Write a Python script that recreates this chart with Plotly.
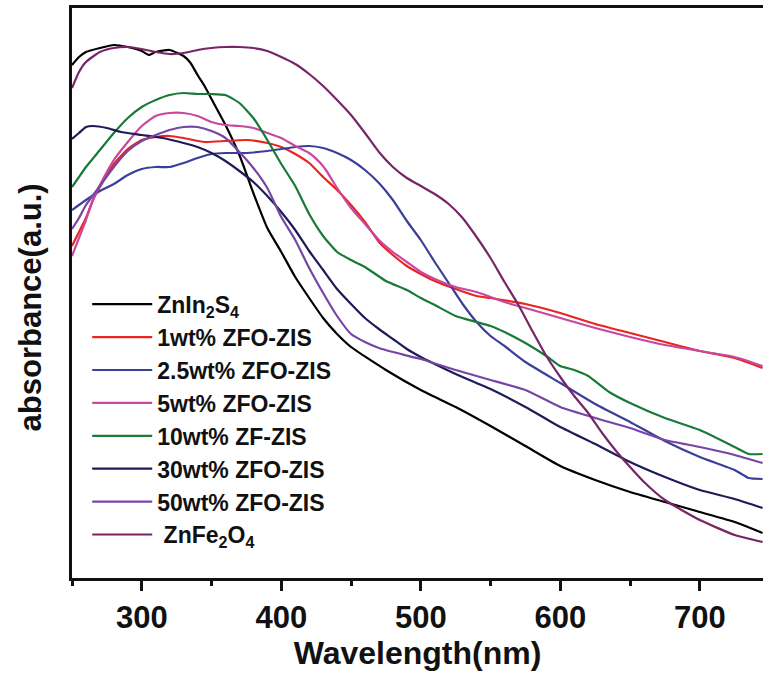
import plotly.graph_objects as go

# ---- data (wavelength in nm, absorbance in a.u.) ----
w_zis = [250,255,260,270,280,290,300,305,310,320,330,335,340,345,350,360,370,380,390,400,410,420,430,440,450,475,500,525,550,575,600,625,650,675,700,725,745]
a_zis = [5.13,5.21,5.26,5.30,5.33,5.31,5.27,5.23,5.26,5.28,5.22,5.15,5.03,4.92,4.79,4.53,4.23,3.85,3.50,3.26,3.01,2.80,2.60,2.44,2.31,2.08,1.88,1.71,1.52,1.32,1.12,0.98,0.86,0.76,0.66,0.56,0.45]

w_1 = [250,255,260,265,270,280,290,300,310,320,330,345,360,375,390,400,410,420,430,440,450,460,470,480,490,500,510,525,540,550,575,600,625,650,675,700,725,745]
a_1 = [3.32,3.46,3.60,3.78,3.91,4.14,4.29,4.38,4.41,4.42,4.40,4.36,4.37,4.38,4.35,4.31,4.24,4.15,4.01,3.88,3.73,3.56,3.36,3.23,3.12,3.04,2.97,2.89,2.82,2.80,2.74,2.65,2.54,2.45,2.36,2.27,2.20,2.10]

w_25 = [250,260,270,280,290,300,310,320,330,340,350,360,375,390,400,410,420,430,440,450,460,470,480,490,500,510,520,530,540,550,560,575,600,625,650,675,700,725,735,745]
a_25 = [3.68,3.78,3.87,3.94,4.03,4.09,4.11,4.11,4.15,4.20,4.24,4.25,4.25,4.27,4.29,4.31,4.32,4.30,4.25,4.18,4.08,3.95,3.78,3.57,3.38,3.16,2.95,2.74,2.56,2.42,2.32,2.16,1.95,1.74,1.56,1.37,1.21,1.08,1.00,0.99]

w_5 = [250,255,260,265,270,280,290,300,310,320,330,340,350,360,370,380,390,400,410,420,428,432,440,450,460,470,480,490,500,510,525,540,550,560,575,600,625,650,675,700,725,745]
a_5 = [3.22,3.40,3.58,3.78,3.93,4.18,4.36,4.52,4.62,4.65,4.65,4.62,4.56,4.53,4.52,4.50,4.45,4.40,4.32,4.25,4.15,4.08,3.90,3.70,3.54,3.38,3.26,3.16,3.06,2.99,2.91,2.86,2.81,2.76,2.70,2.60,2.50,2.41,2.33,2.27,2.21,2.12]

w_10 = [250,255,260,270,280,290,300,310,320,330,340,350,360,370,380,390,400,410,420,430,440,450,460,475,490,500,510,525,540,550,560,575,590,600,610,620,635,650,675,700,725,735,745]
a_10 = [3.91,4.01,4.11,4.28,4.45,4.60,4.71,4.78,4.83,4.85,4.84,4.84,4.83,4.75,4.60,4.38,4.14,3.92,3.64,3.42,3.26,3.18,3.11,2.97,2.88,2.80,2.73,2.62,2.56,2.52,2.46,2.35,2.22,2.12,2.08,2.02,1.86,1.75,1.60,1.48,1.31,1.24,1.24]

w_30 = [250,255,260,265,275,285,300,315,330,340,350,360,370,380,390,400,410,420,430,440,450,460,470,480,490,500,510,525,550,575,600,625,650,675,700,725,745]
a_30 = [4.39,4.45,4.51,4.52,4.50,4.46,4.43,4.40,4.35,4.31,4.25,4.17,4.07,3.96,3.82,3.66,3.48,3.27,3.08,2.89,2.74,2.60,2.49,2.39,2.29,2.21,2.14,2.04,1.89,1.71,1.51,1.34,1.16,1.01,0.88,0.79,0.70]

w_50 = [250,255,260,270,280,290,300,310,320,330,340,350,360,370,380,390,400,410,420,430,440,450,460,470,480,500,525,550,575,600,625,650,675,700,725,745]
a_50 = [3.49,3.60,3.73,3.92,4.11,4.27,4.37,4.43,4.48,4.51,4.51,4.47,4.40,4.26,4.10,3.90,3.61,3.38,3.10,2.85,2.62,2.44,2.36,2.30,2.26,2.19,2.08,1.98,1.88,1.71,1.60,1.50,1.38,1.31,1.23,1.15]

w_zfo = [250,255,260,270,280,290,300,310,320,330,340,350,360,370,380,390,400,410,420,430,440,450,460,470,480,490,500,510,520,530,540,550,560,570,580,590,600,610,620,630,640,650,660,675,700,725,745]
a_zfo = [4.90,5.06,5.16,5.26,5.30,5.31,5.29,5.26,5.24,5.25,5.28,5.30,5.31,5.31,5.30,5.27,5.21,5.14,5.04,4.92,4.78,4.63,4.45,4.26,4.11,4.00,3.92,3.84,3.74,3.60,3.41,3.20,2.96,2.73,2.47,2.22,2.01,1.82,1.65,1.45,1.27,1.11,0.96,0.78,0.58,0.43,0.36]

names = ["ZnIn<sub>2</sub>S<sub>4</sub>", "1wt% ZFO-ZIS", "2.5wt% ZFO-ZIS", "5wt% ZFO-ZIS",
         "10wt% ZF-ZIS", "30wt% ZFO-ZIS", "50wt% ZFO-ZIS", " ZnFe<sub>2</sub>O<sub>4</sub>"]
colors = ["#000000", "#E8251F", "#3B3F99", "#C9479E", "#187A38", "#1E1B57", "#7646A4", "#762565"]
series = [(w_zis, a_zis), (w_1, a_1), (w_25, a_25), (w_5, a_5),
          (w_10, a_10), (w_30, a_30), (w_50, a_50), (w_zfo, a_zfo)]

x_major = [300, 400, 500, 600, 700]
x_minor = [250, 350, 450, 550, 650]

FONT = "Liberation Sans, Arial, sans-serif"
INK = "#111111"

fig = go.Figure()
for (wx, ay), nm, c in zip(series, names, colors):
    fig.add_trace(go.Scatter(x=wx, y=ay, mode="lines", name=nm,
                             line=dict(color=c, width=2.2, shape="spline", smoothing=0.5)))

fig.update_layout(
    width=763, height=673,
    margin=dict(l=72, r=0, t=8, b=95, autoexpand=False),
    paper_bgcolor="white", plot_bgcolor="white",
    font=dict(family=FONT, color=INK),
    showlegend=True,
    legend=dict(x=0.022, y=0.518, xanchor="left", yanchor="top",
                bgcolor="rgba(0,0,0,0)", borderwidth=0,
                font=dict(family=FONT, size=23, color=INK, weight="bold"),
                itemwidth=60, tracegroupgap=0),
    xaxis=dict(range=[250, 745.3], showgrid=False, zeroline=False, automargin=False,
               showline=True, linecolor=INK, linewidth=3, mirror=True,
               tickvals=x_major, ticktext=[str(v) for v in x_major],
               ticks="outside", ticklen=10, tickwidth=3, tickcolor=INK,
               minor=dict(tickvals=x_minor, ticks="outside", ticklen=5, tickwidth=3, tickcolor=INK),
               tickfont=dict(family=FONT, size=31, color=INK, weight="bold"),
               title=dict(text="Wavelength(nm)", font=dict(family=FONT, size=32, color=INK, weight="bold"), standoff=8)),
    yaxis=dict(range=[0, 5.70], showgrid=False, zeroline=False, automargin=False,
               showline=True, linecolor=INK, linewidth=3, mirror=False,
               showticklabels=False, ticks=""),
    annotations=[dict(text="absorbance(a.u.)", xref="paper", yref="paper",
                      x=-0.0605, y=0.475, xanchor="center", yanchor="middle",
                      textangle=-90, showarrow=False,
                      font=dict(family=FONT, size=31, color=INK, weight="bold"))],
)

fig.write_html("out.html",
               config={"displayModeBar": False},
               post_script="document.documentElement.style.overflow='hidden';"
                           "document.body.style.margin='0';document.body.style.overflow='hidden';")
